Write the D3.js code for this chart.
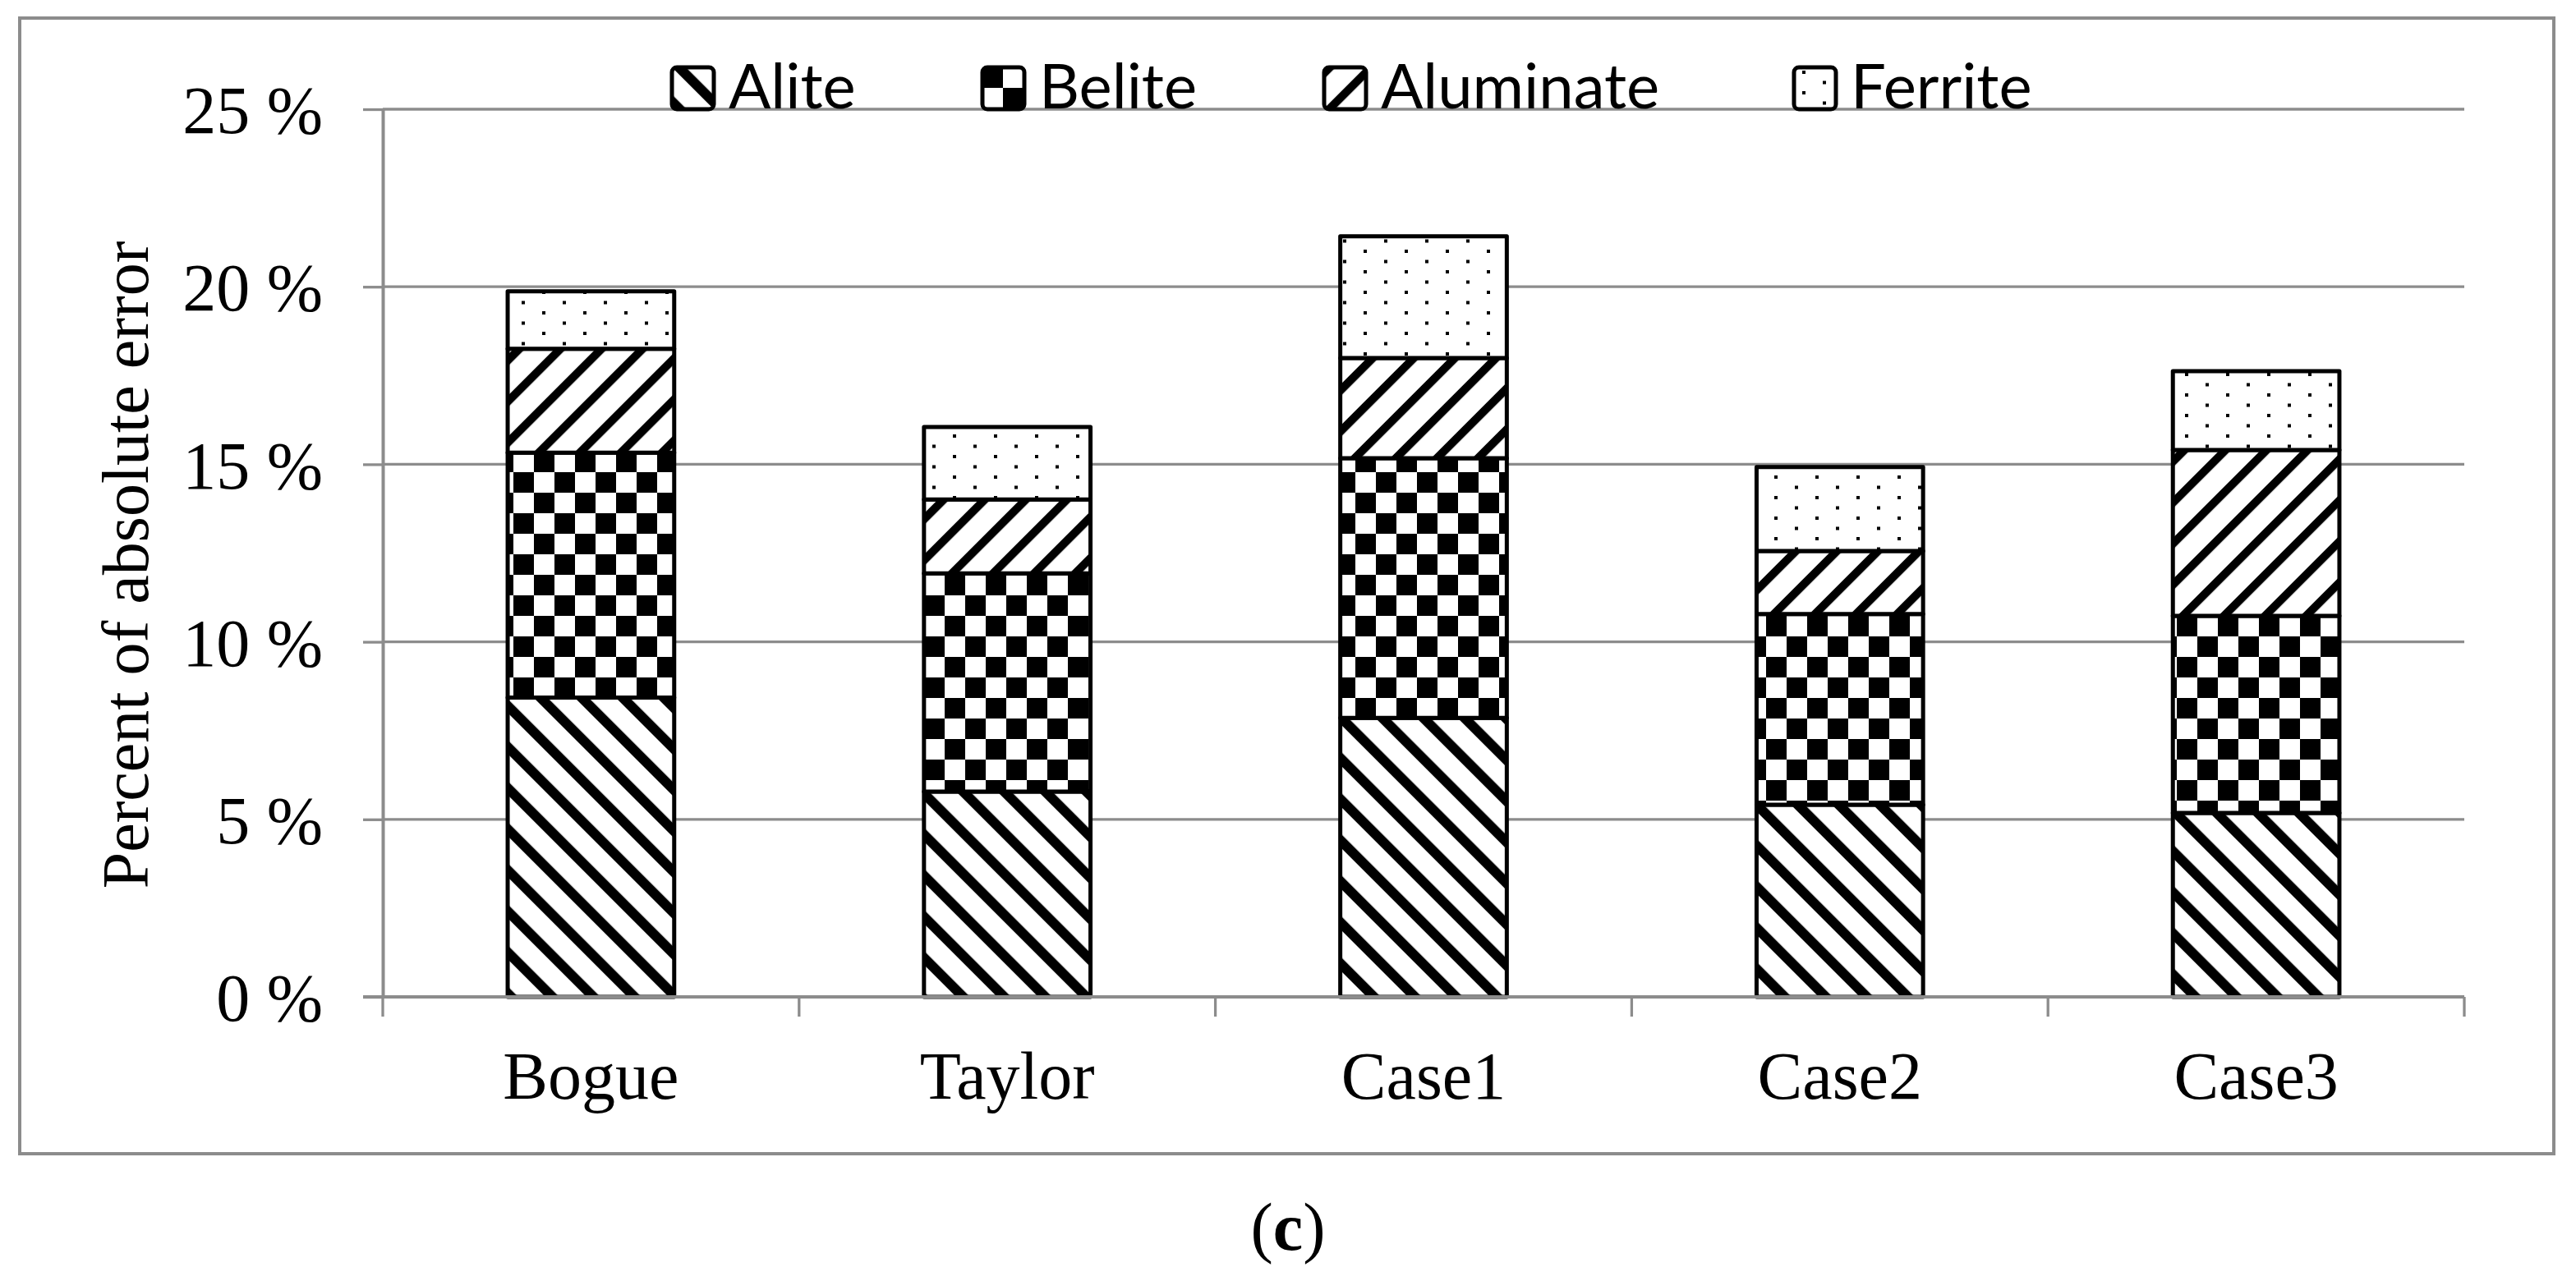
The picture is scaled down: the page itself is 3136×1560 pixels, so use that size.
<!DOCTYPE html>
<html>
<head>
<meta charset="utf-8">
<script src="https://cdn.jsdelivr.net/npm/d3@7"></script>
<style>
  html, body { margin: 0; padding: 0; background: #fff; }
  svg { display: block; }
</style>
</head>
<body>
<svg id="chart" width="3136" height="1560"></svg>
<script>
// ---- data ----
const categories = ["Bogue", "Taylor", "Case1", "Case2", "Case3"];
const seriesNames = ["Alite", "Belite", "Aluminate", "Ferrite"];
const alite     = [8.43, 5.78, 7.86, 5.41, 5.18];
const belite    = [6.90, 6.15, 7.31, 5.37, 5.55];
const aluminate = [2.92, 2.08, 2.82, 1.78, 4.67];
const ferrite   = [1.62, 2.04, 3.43, 2.36, 2.22];
const yTicks = [0, 5, 10, 15, 20, 25];
const yLabel = "Percent of absolute error";
const caption = "c";

const rows = categories.map((c, i) => ({
  cat: c, Alite: alite[i], Belite: belite[i], Aluminate: aluminate[i], Ferrite: ferrite[i]
}));

const svg = d3.select("#chart");
const serif = "'Liberation Serif', 'Times New Roman', Times, serif";
const grey = "#8c8c8c";

// ---- patterns ----
const defs = svg.append("defs");
function stripe(id, angle, w) {
  const p = defs.append("pattern").attr("id", id).attr("patternUnits", "userSpaceOnUse")
    .attr("width", 35.36).attr("height", 20).attr("patternTransform", `rotate(${angle})`);
  p.append("rect").attr("width", 35.36).attr("height", 20).attr("fill", "#fff");
  p.append("rect").attr("width", w).attr("height", 20).attr("fill", "#000");
}
stripe("pAlite", -45, 12);
stripe("pAluminate", 45, 10);
{
  const p = defs.append("pattern").attr("id", "pBelite").attr("patternUnits", "userSpaceOnUse")
    .attr("width", 50).attr("height", 50);
  p.append("rect").attr("width", 50).attr("height", 50).attr("fill", "#fff");
  p.append("rect").attr("x", 0).attr("y", 0).attr("width", 25).attr("height", 25).attr("fill", "#000");
  p.append("rect").attr("x", 25).attr("y", 25).attr("width", 25).attr("height", 25).attr("fill", "#000");
}
{
  const p = defs.append("pattern").attr("id", "pFerrite").attr("patternUnits", "userSpaceOnUse")
    .attr("width", 50).attr("height", 25);
  p.append("rect").attr("width", 50).attr("height", 25).attr("fill", "#fff");
  p.append("rect").attr("x", 10).attr("y", 4).attr("width", 4).attr("height", 4).attr("fill", "#000");
  p.append("rect").attr("x", 35).attr("y", 16.5).attr("width", 4).attr("height", 4).attr("fill", "#000");
}
const fillOf = { Alite: "url(#pAlite)", Belite: "url(#pBelite)", Aluminate: "url(#pAluminate)", Ferrite: "url(#pFerrite)" };

// ---- frame ----
svg.append("rect").attr("x", 24).attr("y", 22).attr("width", 3085).attr("height", 1383)
  .attr("fill", "none").attr("stroke", grey).attr("stroke-width", 4);

// ---- scales ----
const x = d3.scaleBand().domain(categories).range([466, 3000]).paddingInner(0.6).paddingOuter(0.3);
const y = d3.scaleLinear().domain([0, 25]).range([1214, 133]);

// gridlines
svg.append("g").selectAll("line").data(yTicks.filter(d => d > 0)).join("line")
  .attr("x1", 466).attr("x2", 3000).attr("y1", d => y(d)).attr("y2", d => y(d))
  .attr("stroke", grey).attr("stroke-width", 3.3);

// y axis
const yAxis = svg.append("g").attr("transform", "translate(466,0)")
  .call(d3.axisLeft(y).tickValues(yTicks).tickSizeInner(24).tickSizeOuter(0).tickPadding(49)
    .tickFormat(d => d + " %"));
yAxis.select(".domain").attr("stroke", grey).attr("stroke-width", 4);
yAxis.selectAll(".tick line").attr("stroke", grey).attr("stroke-width", 3.3);
yAxis.selectAll(".tick text").attr("font-family", serif).attr("font-size", 82)
  .attr("fill", "#000").attr("dy", "0.35em");

// x axis (labels via band scale; ticks at band boundaries)
const xAxis = svg.append("g").attr("transform", "translate(0,1214)")
  .call(d3.axisBottom(x).tickSize(0).tickPadding(66));
xAxis.select(".domain").remove();
xAxis.selectAll(".tick text").attr("font-family", serif).attr("font-size", 82).attr("fill", "#000");
const bounds = d3.range(categories.length + 1).map(i => x.range()[0] + i * x.step());
svg.append("g").selectAll("line").data(bounds).join("line")
  .attr("x1", d => d).attr("x2", d => d).attr("y1", 1214).attr("y2", 1238)
  .attr("stroke", grey).attr("stroke-width", 3.3);

// ---- bars ----
const stack = d3.stack().keys(seriesNames)(rows);
svg.append("g").selectAll("g").data(stack).join("g")
  .attr("fill", d => fillOf[d.key])
  .selectAll("rect").data(d => d).join("rect")
  .attr("x", d => x(d.data.cat)).attr("width", x.bandwidth())
  .attr("y", d => y(d[1])).attr("height", d => y(d[0]) - y(d[1]))
  .attr("stroke", "#000").attr("stroke-width", 5).attr("stroke-linejoin", "round");

// x-axis baseline drawn over bars
svg.append("line").attr("x1", 442).attr("x2", 3000).attr("y1", 1214).attr("y2", 1214)
  .attr("stroke", grey).attr("stroke-width", 4);

// ---- legend ----
const legendX = [818, 1196, 1612, 2184];
const lg = svg.append("g").selectAll("g").data(seriesNames).join("g")
  .attr("transform", (d, i) => `translate(${legendX[i]},82)`);
lg.append("rect").attr("width", 51).attr("height", 51).attr("rx", 6)
  .attr("fill", d => fillOf[d]).attr("stroke", "#000").attr("stroke-width", 5);
lg.append("text").attr("x", 69).attr("y", 50).text(d => d)
  .attr("font-family", "Lato, 'Open Sans', sans-serif").attr("font-size", 76).attr("fill", "#000");

// ---- y label ----
svg.append("text").attr("transform", "translate(180,688) rotate(-90)")
  .attr("text-anchor", "middle").attr("font-family", serif).attr("font-size", 80)
  .attr("fill", "#000").text(yLabel);

// ---- caption ----
const cap = svg.append("text").attr("x", 1568).attr("y", 1522).attr("text-anchor", "middle")
  .attr("font-family", serif).attr("font-size", 82).attr("fill", "#000");
cap.append("tspan").text("(");
cap.append("tspan").attr("font-weight", "bold").text(caption);
cap.append("tspan").text(")");
</script>
</body>
</html>
